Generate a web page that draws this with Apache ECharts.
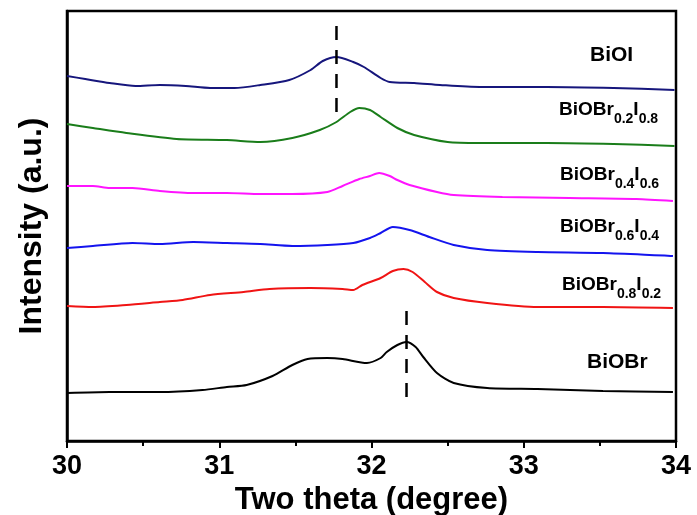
<!DOCTYPE html>
<html>
<head>
<meta charset="utf-8">
<script src="https://cdn.jsdelivr.net/npm/echarts@6/dist/echarts.min.js"></script>
<style>html,body{margin:0;padding:0;background:#fff;}#c{width:697px;height:515px;}</style>
</head>
<body>
<div id="c"></div>
<script>
// x values (two theta, degree) and offset intensities (a.u.)
var xBiOI = [30.00,30.12,30.28,30.45,30.61,30.78,30.94,31.10,31.27,31.46,31.60,31.68,31.77,31.88,31.95,32.06,32.12,32.28,32.45,32.71,33.15,33.59,33.99];
var yBiOI = [365,362,358,355,356,355,353,353,356,361,371,380,384,379,374,363,359,358,356,354,354,353,351];

var xBr2I8 = [30.00,30.17,30.39,30.72,31.05,31.27,31.48,31.66,31.77,31.86,31.92,31.99,32.06,32.17,32.28,32.50,32.71,33.15,33.59,33.99];
var yBr2I8 = [317,313,308,302,301,299,303,311,319,329,333,331,324,313,306,299,298,298,297,295];

var xBr4I6 = [30.00,30.17,30.28,30.43,30.61,30.83,31.05,31.27,31.48,31.71,31.81,31.92,31.99,32.05,32.12,32.17,32.25,32.43,32.54,32.86,33.30,33.74,33.98];
var yBr4I6 = [255,255,253,253,250,248,248,247,247,249,255,262,265,268,265,261,256,249,246,244,243,242,240];

var xBr6I4 = [30.00,30.17,30.43,30.61,30.83,31.05,31.27,31.48,31.71,31.88,31.99,32.06,32.14,32.25,32.38,32.54,32.76,33.09,33.52,33.98];
var yBr6I4 = [193,195,198,197,199,198,197,195,196,198,203,208,214,211,204,196,191,189,188,185];

var xBr8I2 = [30.00,30.17,30.39,30.61,30.76,30.94,31.16,31.33,31.60,31.81,31.88,31.94,32.06,32.14,32.21,32.27,32.35,32.43,32.54,32.76,33.09,33.52,33.98];
var yBr8I2 = [135,134,136,139,141,146,149,152,153,152,151,156,163,170,172,169,159,149,143,138,134,134,133];

var xBiOBr = [30.00,30.28,30.61,30.89,31.05,31.18,31.35,31.48,31.58,31.71,31.81,31.97,32.06,32.10,32.17,32.23,32.29,32.34,32.43,32.54,32.76,33.09,33.52,33.98];
var yBiOBr = [48,49,49,51,54,56,65,76,82,83,82,78,83,89,96,99,94,84,68,58,53,52,50,49];

// dashed peak markers
var xDashBiOI = [31.77,31.77];
var yDashBiOI = [329,419];
var xDashBiOBr = [32.23,32.23];
var yDashBiOBr = [44,136];

var xTicks = [30,31,32,33,34];

function zip(xs, ys){ return xs.map(function(x,i){ return [x, ys[i]]; }); }

var chart = echarts.init(document.getElementById('c'), null, {renderer:'canvas'});
var F = 'Arial, "Liberation Sans", sans-serif';

function curve(name, xs, ys, color){
  return {name:name, type:'line', data:zip(xs,ys), showSymbol:false, smooth:0.25,
    lineStyle:{color:color, width:2}, silent:true, animation:false};
}
function dash(xs, ys){
  return {type:'line', data:zip(xs,ys), showSymbol:false, silent:true, animation:false,
    lineStyle:{color:'#000', width:2.5, type:[14,10]}};
}

var mainRich = {
  m:{fontSize:19, fontWeight:'bold', fontFamily:F, fill:'#000', color:'#000'},
  s:{fontSize:14, fontWeight:'bold', fontFamily:F, fill:'#000', color:'#000', padding:[18,0,0,0]}
};
function subLabel(text, x, y){
  return {type:'text', x:x, y:y, silent:true,
    style:{text:text, rich:mainRich, textVerticalAlign:'middle', verticalAlign:'middle', textAlign:'left', align:'left'}};
}
function plainLabel(text, x, y){
  return {type:'text', x:x, y:y, silent:true,
    style:{text:text, font:'bold 21px ' + F, fill:'#000', verticalAlign:'middle', textVerticalAlign:'middle', align:'left', textAlign:'left'}};
}

chart.setOption({
  animation:false,
  backgroundColor:'#fff',
  grid:{left:67, right:21, top:11, bottom:74, containLabel:false, outerBoundsMode:'none',
    show:true, borderColor:'#000', borderWidth:2.5, backgroundColor:'transparent'},
  xAxis:{type:'value', min:30, max:34, interval:1,
    name:'Two theta (degree)', nameLocation:'middle', nameGap:44,
    nameTextStyle:{fontSize:31, fontWeight:'bold', fontFamily:F, color:'#000'},
    axisLine:{show:true, lineStyle:{color:'#000', width:2.5}},
    axisTick:{show:true, inside:false, length:7, lineStyle:{color:'#000', width:2}},
    minorTick:{show:true, splitNumber:2, length:5, lineStyle:{color:'#000', width:2}},
    splitLine:{show:false},
    axisLabel:{fontSize:27, fontWeight:'bold', fontFamily:F, color:'#000', margin:12,
      formatter:function(v){ return xTicks.indexOf(v) >= 0 ? String(v) : ''; }}
  },
  yAxis:{type:'value', min:0, max:430,
    name:'Intensity (a.u.)', nameLocation:'middle', nameGap:19, nameRotate:90,
    nameTextStyle:{fontSize:32, fontWeight:'bold', fontFamily:F, color:'#000'},
    axisLine:{show:true, lineStyle:{color:'#000', width:2.5}},
    axisTick:{show:false}, axisLabel:{show:false}, splitLine:{show:false}
  },
  series:[
    curve('BiOI', xBiOI, yBiOI, '#16167c'),
    curve('BiOBr0.2I0.8', xBr2I8, yBr2I8, '#1a7d1a'),
    curve('BiOBr0.4I0.6', xBr4I6, yBr4I6, '#ff14ff'),
    curve('BiOBr0.6I0.4', xBr6I4, yBr6I4, '#1414ee'),
    curve('BiOBr0.8I0.2', xBr8I2, yBr8I2, '#f01414'),
    curve('BiOBr', xBiOBr, yBiOBr, '#000000'),
    dash(xDashBiOI, yDashBiOI),
    dash(xDashBiOBr, yDashBiOBr)
  ],
  graphic:[
    plainLabel('BiOI', 590, 55),
    subLabel('{m|BiOBr}{s|0.2}{m|I}{s|0.8}', 559, 110),
    subLabel('{m|BiOBr}{s|0.4}{m|I}{s|0.6}', 560, 175),
    subLabel('{m|BiOBr}{s|0.6}{m|I}{s|0.4}', 560, 227),
    subLabel('{m|BiOBr}{s|0.8}{m|I}{s|0.2}', 562, 285),
    plainLabel('BiOBr', 587, 362)
  ]
});
</script>
</body>
</html>
